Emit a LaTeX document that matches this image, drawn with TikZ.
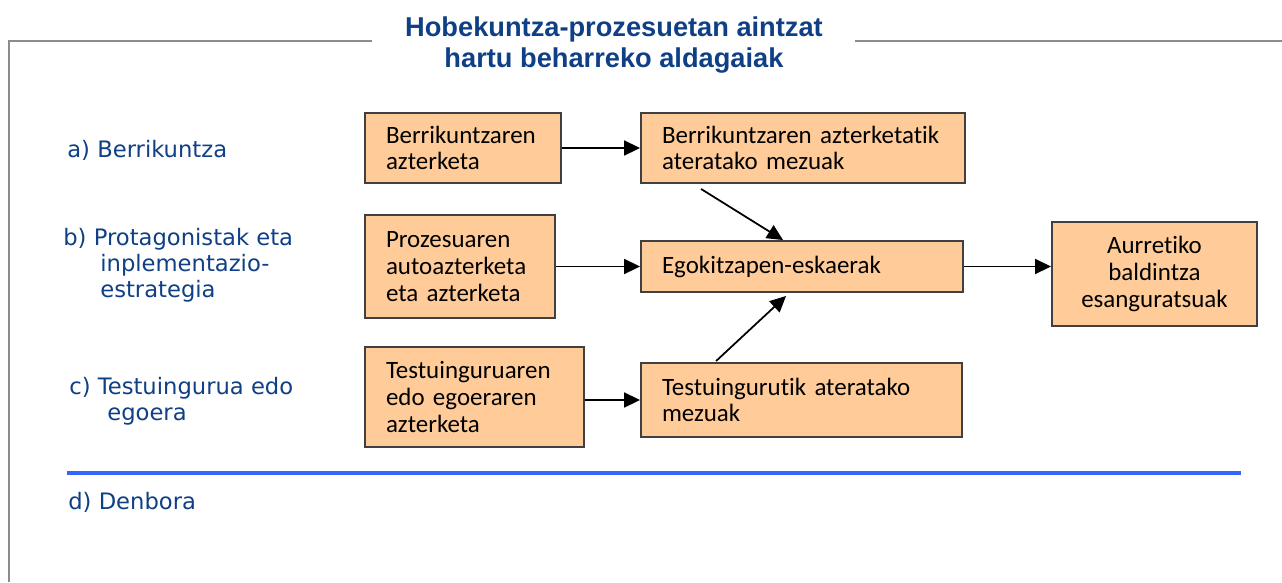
\documentclass[tikz,border=0pt]{standalone}
\usepackage{fontspec}
\usepackage{xcolor}
\usepackage{tikz}
\usetikzlibrary{calc,arrows.meta}

\newfontfamily\boxfont[Ligatures=NoCommon]{Carlito}
\newfontfamily\labelfont{DejaVu Sans}
\newfontfamily\titlefont{Liberation Sans}

\definecolor{boxfill}{HTML}{FFCC99}
\definecolor{boxline}{HTML}{404040}
\definecolor{navytext}{HTML}{0F3F85}
\definecolor{sepblue}{HTML}{3366FF}
\definecolor{framegray}{HTML}{8C8C8C}

\begin{document}
\begin{tikzpicture}[
	x=0.02cm, y=-0.02cm,
	% boxes of the flow
	sbox/.style={draw=boxline, fill=boxfill, line width=1.1pt,
		inner xsep=0.42cm, inner ysep=2pt, align=left,
		font=\boxfont\fontsize{14.2}{15.2}\selectfont},
	lbl/.style={anchor=west, inner sep=0pt, align=left, text=navytext,
		font=\labelfont\fontsize{12.9}{14.7}\selectfont},
	flow/.style={-{Triangle[length=0.32cm, width=0.3cm]}, line width=1pt, black}
	]
	\useasboundingbox (0,0) rectangle (1282,582);

	% --- FRAME AND TITLE ---
	\draw[framegray, line width=1.1pt] (372,41) -- (9,41) -- (9,582);
	\draw[framegray, line width=1.1pt] (855,41) -- (1282,41);
	\node[align=center, text=navytext, inner sep=0pt,
		font=\titlefont\bfseries\fontsize{15.5}{17.6}\selectfont]
		(title) at (614,45) {Hobekuntza-prozesuetan aintzat\\hartu beharreko aldagaiak};

	% --- LEFT LABELS ---
	\node[lbl] (la) at (67,150) {a) Berrikuntza};
	\node[lbl] (lb) at (63,265) {b) Protagonistak eta\\\hspace*{0.74cm}inplementazio-\\\hspace*{0.74cm}estrategia};
	\node[lbl] (lc) at (69,401) {c) Testuingurua edo\\\hspace*{0.76cm}egoera};
	\node[lbl] (ld) at (68,502) {d) Denbora};

	% --- BOXES ---
	\node[sbox, text width=3.08cm, minimum height=1.4cm] (b1) at (463,148)
		{Berrikuntzaren\\azterketa};
	\node[sbox, text width=5.64cm, minimum height=1.4cm] (b2) at (803,148)
		{Berrikuntzaren azterketatik\\ateratako mezuak};
	\node[sbox, text width=2.96cm, minimum height=2.06cm] (b3) at (460,266.5)
		{Prozesuaren\\autoazterketa\\eta azterketa};
	\node[sbox, text width=5.6cm, minimum height=1.02cm] (b4) at (802,266.5)
		{Egokitzapen-eskaerak};
	\node[sbox, text width=3.26cm, minimum height=2.08cm, align=center] (b5) at (1154.5,274)
		{Aurretiko\\baldintza\\esanguratsuak};
	\node[sbox, text width=3.54cm, minimum height=2.0cm] (b6) at (474.5,397)
		{Testuinguruaren\\edo egoeraren\\azterketa};
	\node[sbox, text width=5.58cm, minimum height=1.48cm] (b7) at (801.5,400)
		{Testuingurutik ateratako\\mezuak};

	% --- ARROWS ---
	\draw[flow] (b1.east) -- (b2.west);
	\draw[flow] (b3.east) -- (b4.west);
	\draw[flow] (b4.east) -- (b4.east -| b5.west);
	\draw[flow] (b6.east |- b7.west) -- (b7.west);
	\draw[flow] ($(b2.south west)+(61,5)$) -- ($(b4.north west)+(143,0)$);
	\draw[flow] ($(b7.north west)+(76,-1)$) -- ($(b4.south west)+(146,3)$);

	% --- SEPARATOR ---
	\draw[sepblue, line width=2.3pt] (67,473) -- (1241,473);
\end{tikzpicture}
\end{document}
